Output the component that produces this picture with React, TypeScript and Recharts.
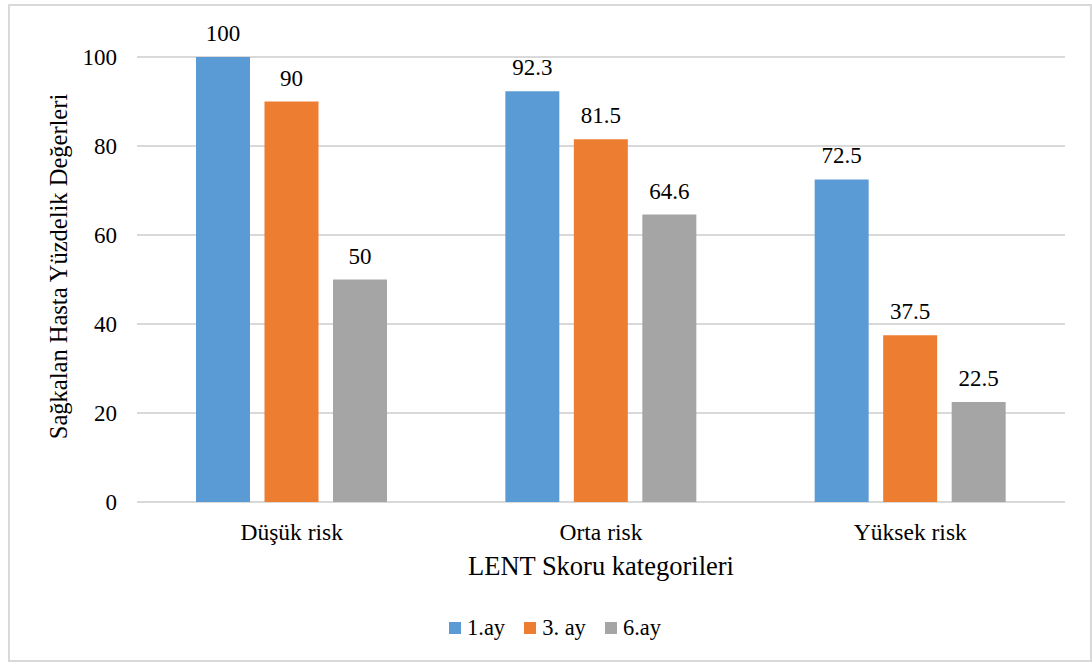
import React from "react";
import { BarChart, Bar, XAxis, YAxis, CartesianGrid, LabelList } from "recharts";

// Categories and series values
const categories = ["Düşük risk", "Orta risk", "Yüksek risk"];
const seriesNames = ["1.ay", "3. ay", "6.ay"];
const seriesColors = ["#5B9BD5", "#ED7D31", "#A5A5A5"];
const month1 = [100, 92.3, 72.5];
const month3 = [90, 81.5, 37.5];
const month6 = [50, 64.6, 22.5];
const yTicks = [0, 20, 40, 60, 80, 100];

const xTitle = "LENT Skoru kategorileri";
const yTitle = "Sağkalan Hasta Yüzdelik Değerleri";

const seriesValues = [month1, month3, month6];
const data = categories.map((name, i) => {
  const row: Record<string, string | number> = { name };
  seriesNames.forEach((s, j) => {
    row[s] = seriesValues[j][i];
  });
  return row;
});

const FONT = "'Liberation Serif', 'Times New Roman', serif";
const GRID = "#D9D9D9";

const YTitle = (props: any) => {
  const { viewBox } = props;
  const cx = 58;
  const cy = viewBox.y + viewBox.height / 2 - 13;
  return (
    <text
      x={cx}
      y={cy}
      transform={`rotate(-90, ${cx}, ${cy})`}
      textAnchor="middle"
      dominantBaseline="central"
      fontSize={24.5}
      fill="#000"
    >
      {yTitle}
    </text>
  );
};

const XTitle = (props: any) => {
  const { viewBox } = props;
  const cx = viewBox.x + viewBox.width / 2;
  const y = viewBox.y + 73;
  return (
    <text x={cx} y={y} textAnchor="middle" fontSize={26.5} fill="#000">
      {xTitle}
    </text>
  );
};

export default function App() {
  return (
    <div
      className="lent-chart"
      style={{ position: "absolute", left: 0, top: 0, width: 1092, height: 663, background: "#fff", fontFamily: FONT }}
    >
      <style>{`.lent-chart svg text { font-family: ${FONT} !important; }`}</style>
      <div
        style={{
          position: "absolute",
          left: 8,
          top: 4,
          width: 1084,
          height: 658,
          border: `2px solid ${GRID}`,
          boxSizing: "border-box",
        }}
      />
      <div style={{ position: "absolute", left: 0, top: 0 }}>
        <BarChart
          width={1092}
          height={663}
          data={data}
          margin={{ top: 57, right: 27, bottom: 0, left: 0 }}
          barSize={54}
          barGap={14.5}
        >
          <CartesianGrid vertical={false} stroke={GRID} strokeWidth={2} />
          <XAxis
            dataKey="name"
            height={161}
            axisLine={false}
            tickLine={false}
            tickSize={0}
            tickMargin={21}
            tick={{ fontSize: 23.5, fill: "#000" }}
            label={<XTitle />}
          />
          <YAxis
            width={137}
            domain={[0, 100]}
            ticks={yTicks}
            axisLine={false}
            tickLine={false}
            tickSize={0}
            tickMargin={20}
            tick={{ fontSize: 23, fill: "#000" }}
            label={<YTitle />}
          />
          {seriesNames.map((s, j) => (
            <Bar key={s} dataKey={s} fill={seriesColors[j]} isAnimationActive={false}>
              <LabelList dataKey={s} position="top" offset={16} fontSize={23} fill="#000" />
            </Bar>
          ))}
        </BarChart>
      </div>
      <div
        style={{
          position: "absolute",
          left: 449,
          top: 615,
          display: "flex",
          alignItems: "center",
          fontSize: 22.5,
          color: "#000",
          whiteSpace: "nowrap",
        }}
      >
        {seriesNames.map((s, j) => (
          <div key={s} style={{ display: "flex", alignItems: "center", marginRight: 19 }}>
            <span
              style={{
                display: "inline-block",
                width: 12,
                height: 12,
                background: seriesColors[j],
                marginRight: 6,
              }}
            />
            <span>{s}</span>
          </div>
        ))}
      </div>
    </div>
  );
}
